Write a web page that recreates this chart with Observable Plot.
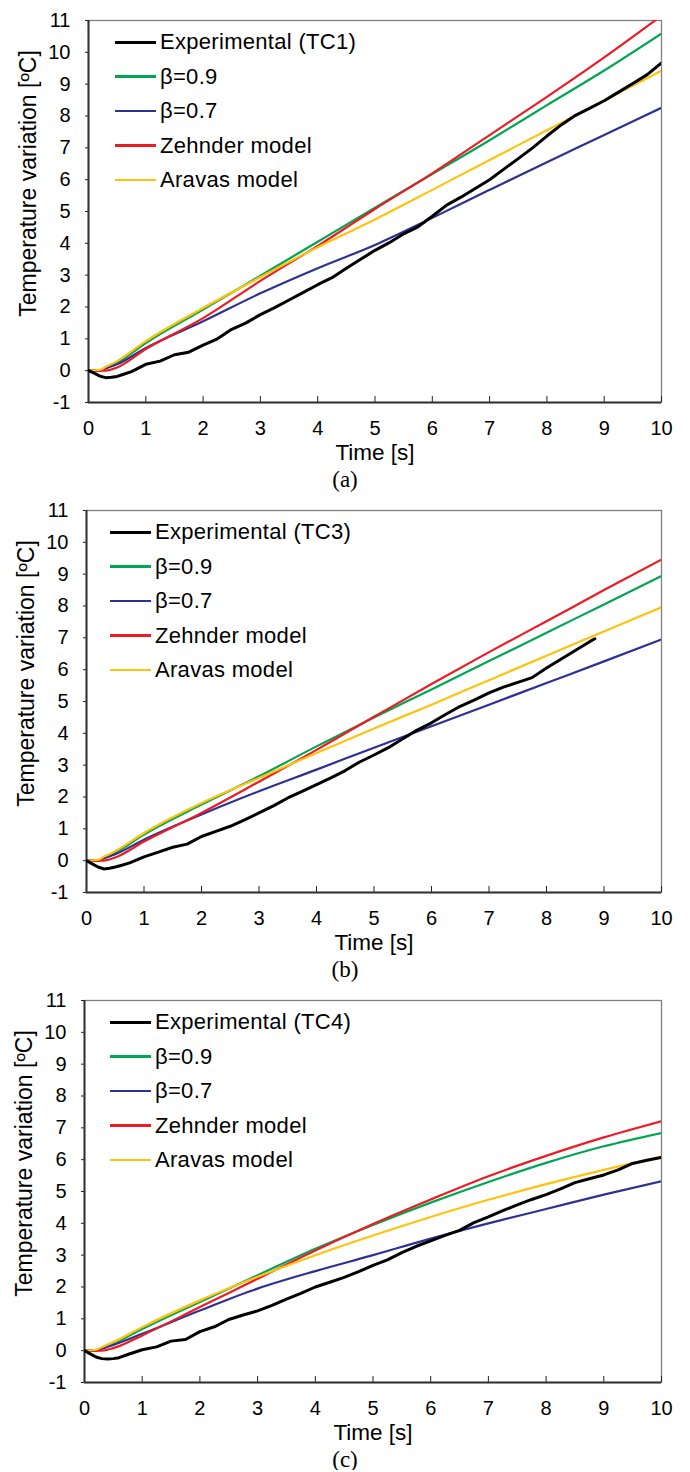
<!DOCTYPE html>
<html><head><meta charset="utf-8">
<script src="https://cdn.jsdelivr.net/npm/d3@7"></script>
<script src="https://cdn.jsdelivr.net/npm/@observablehq/plot@0.6"></script>
<style>
body{margin:0;background:#fff;}
.panel{position:relative;width:690px;height:466px;}
.panel svg{display:block;}
.legend{position:absolute;left:0;top:0;font-family:"Liberation Sans",Arial,sans-serif;font-size:22px;letter-spacing:0.3px;color:#000;}
.row{position:absolute;height:34px;display:flex;align-items:center;white-space:nowrap;}
.swatch{display:inline-block;width:41px;margin-right:4px;}
.caption{height:24px;line-height:24px;text-align:center;font-family:"Liberation Serif","Times New Roman",serif;font-size:23px;color:#000;position:relative;top:2px;z-index:2;}
</style></head><body><div id="root"></div>
<script>
// ---------- data ----------
const seriesNames = ["β=0.9", "β=0.7", "Zehnder model", "Aravas model"];
const seriesColors = ["#00a651", "#2e3192", "#ed1c24", "#ffc20e"];
const expColor = "#000000";
const xTicks = [0,1,2,3,4,5,6,7,8,9,10];
const yTicks = [-1,0,1,2,3,4,5,6,7,8,9,10,11];
const xLabel = "Time [s]";
const yLabel = "Temperature variation [ºC]";
const captions = ["(a)", "(b)", "(c)"];
const expNames = ["Experimental (TC1)", "Experimental (TC3)", "Experimental (TC4)"];

const modelTimes = [0, 0.2, 0.3, 0.5, 1, 2, 3, 4, 5, 6, 7, 8, 9, 10];

// panel (a)
const greenA  = [0, 0, 0.08, 0.25, 0.87, 1.92, 2.98, 4.05, 5.12, 6.18, 7.24, 8.34, 9.43, 10.59];
const blueA   = [0, 0, 0.07, 0.2, 0.71, 1.55, 2.43, 3.22, 3.95, 4.8, 5.68, 6.55, 7.4, 8.26];
const redA    = [0, 0, 0, 0.1, 0.68, 1.65, 2.82, 3.92, 5.08, 6.2, 7.4, 8.6, 9.84, 11.15];
const yellowA = [0, 0.03, 0.12, 0.3, 0.93, 1.97, 2.94, 3.88, 4.75, 5.68, 6.62, 7.55, 8.49, 9.42];
// panel (b)
const greenB  = [0, 0, 0.08, 0.25, 0.82, 1.76, 2.65, 3.59, 4.5, 5.38, 6.27, 7.16, 8.05, 8.94];
const blueB   = [0, 0, 0.07, 0.2, 0.66, 1.45, 2.18, 2.86, 3.55, 4.22, 4.9, 5.58, 6.26, 6.95];
const redB    = [0, 0, 0, 0.1, 0.6, 1.5, 2.48, 3.48, 4.52, 5.55, 6.55, 7.52, 8.5, 9.46];
const yellowB = [0, 0.03, 0.12, 0.3, 0.87, 1.81, 2.6, 3.38, 4.15, 4.9, 5.67, 6.44, 7.2, 7.96];
// panel (c)
const greenC  = [0, 0, 0.07, 0.22, 0.68, 1.53, 2.37, 3.2, 3.95, 4.65, 5.3, 5.9, 6.42, 6.84];
const blueC   = [0, 0, 0.06, 0.18, 0.53, 1.26, 1.95, 2.5, 3.0, 3.52, 4.0, 4.45, 4.9, 5.32];
const redC    = [0, 0, 0, 0.08, 0.48, 1.37, 2.26, 3.15, 3.98, 4.75, 5.48, 6.12, 6.7, 7.21];
const yellowC = [0, 0.03, 0.11, 0.27, 0.74, 1.58, 2.32, 3.0, 3.62, 4.2, 4.74, 5.23, 5.68, 6.1];

// experimental
const expTimes = [0, 0.1, 0.2, 0.3, 0.4, 0.5, 0.6, 0.75, 1, 1.25, 1.5, 1.75, 2, 2.25, 2.5, 2.75, 3, 3.25, 3.5, 3.75, 4, 4.25, 4.5, 4.75, 5, 5.25, 5.5, 5.75, 6, 6.25, 6.5, 6.75, 7, 7.25, 7.5, 7.75, 8, 8.25, 8.5, 8.75, 9, 9.25, 9.5, 9.75, 10];
const expA = [0, -0.08, -0.17, -0.22, -0.21, -0.18, -0.12, -0.03, 0.2, 0.3, 0.5, 0.58, 0.8, 1.0, 1.3, 1.5, 1.76, 1.98, 2.22, 2.46, 2.7, 2.92, 3.22, 3.5, 3.78, 4.02, 4.3, 4.52, 4.85, 5.2, 5.45, 5.72, 6.0, 6.33, 6.66, 7.0, 7.37, 7.72, 8.02, 8.25, 8.48, 8.75, 9.02, 9.3, 9.67];
const expTimesB = [0, 0.1, 0.2, 0.3, 0.4, 0.5, 0.6, 0.75, 1, 1.25, 1.5, 1.75, 2, 2.25, 2.5, 2.75, 3, 3.25, 3.5, 3.75, 4, 4.25, 4.5, 4.75, 5, 5.25, 5.5, 5.75, 6, 6.25, 6.5, 6.75, 7, 7.25, 7.5, 7.75, 8, 8.25, 8.5, 8.75, 8.84];
const expB = [0, -0.1, -0.2, -0.26, -0.24, -0.2, -0.15, -0.07, 0.12, 0.27, 0.42, 0.52, 0.76, 0.92, 1.08, 1.28, 1.5, 1.72, 1.97, 2.18, 2.39, 2.6, 2.83, 3.1, 3.32, 3.55, 3.83, 4.1, 4.33, 4.6, 4.85, 5.05, 5.27, 5.45, 5.6, 5.75, 6.05, 6.33, 6.6, 6.88, 6.97];
const expC = [0, -0.1, -0.2, -0.25, -0.26, -0.25, -0.22, -0.12, 0.03, 0.12, 0.3, 0.35, 0.6, 0.75, 0.98, 1.12, 1.25, 1.42, 1.62, 1.8, 2.0, 2.15, 2.3, 2.48, 2.68, 2.85, 3.08, 3.28, 3.45, 3.62, 3.78, 4.02, 4.2, 4.4, 4.58, 4.75, 4.9, 5.08, 5.28, 5.4, 5.52, 5.68, 5.88, 5.98, 6.07];

// ---------- build ----------
const panels = [
  {models: [greenA, blueA, redA, yellowA], expT: expTimes, expV: expA, left: 88, legendLeft: 115},
  {models: [greenB, blueB, redB, yellowB], expT: expTimesB, expV: expB, left: 86, legendLeft: 110},
  {models: [greenC, blueC, redC, yellowC], expT: expTimes, expV: expC, left: 84, legendLeft: 110}
];
const font = '"Liberation Sans", Arial, sans-serif';
const root = document.getElementById("root");

panels.forEach((cfg, p) => {
  const modelRows = [];
  seriesNames.forEach((name, k) => cfg.models[k].forEach((v, i) => modelRows.push({t: modelTimes[i], v, series: name})));
  const expRows = cfg.expT.map((t, i) => ({t, v: cfg.expV[i]}));
  const xDom = [xTicks[0], xTicks[xTicks.length - 1]];
  const yDom = [yTicks[0], yTicks[yTicks.length - 1]];

  const chart = Plot.plot({
    width: 690, height: 466,
    marginLeft: cfg.left, marginRight: 29, marginTop: 20, marginBottom: 64,
    style: {fontFamily: font, fontSize: "20px", color: "#222", background: "transparent", overflow: "visible"},
    x: {domain: xDom},
    y: {domain: yDom},
    color: {domain: seriesNames, range: seriesColors},
    marks: [
      Plot.frame({stroke: "#808080", strokeWidth: 1.3}),
      Plot.axisY({ticks: yTicks, tickSize: 3, tickPadding: 15, tickFormat: d => String(d), fontSize: 20, label: null, fill: "#000"}),
      Plot.axisX({ticks: xTicks, tickSize: -6, tickPadding: 24, tickFormat: d => String(d), fontSize: 20, label: null, fill: "#000"}),
      Plot.ruleX([xDom[0]], {stroke: "#333", strokeWidth: 2}),
      Plot.ruleY([yDom[0]], {stroke: "#333", strokeWidth: 2}),
      Plot.line(modelRows, {x: "t", y: "v", z: "series", stroke: "series", strokeWidth: 2.2, clip: true, curve: "monotone-x"}),
      Plot.line(expRows, {x: "t", y: "v", stroke: expColor, strokeWidth: 3, clip: true}),
      Plot.text([yLabel], {text: d => d, frameAnchor: "left", textAnchor: "middle", lineAnchor: "middle", rotate: -90, dx: -60, dy: -28, fontSize: 23, fill: "#000"}),
      Plot.text([xLabel], {text: d => d, frameAnchor: "bottom", textAnchor: "middle", lineAnchor: "middle", dy: 50, fontSize: 22.5, fill: "#000"})
    ]
  });

  const wrap = document.createElement("div");
  wrap.className = "panel";
  wrap.appendChild(chart);

  const legend = document.createElement("div");
  legend.className = "legend";
  const entries = [{name: expNames[p], color: expColor, w: 3}].concat(seriesNames.map((n, k) => ({name: n, color: seriesColors[k], w: 2.2})));
  entries.forEach((e, i) => {
    const row = document.createElement("div");
    row.className = "row";
    row.style.left = cfg.legendLeft + "px";
    row.style.top = (42 + i * 34.5 - 17) + "px";
    const sw = document.createElement("span");
    sw.className = "swatch";
    sw.style.height = e.w + "px";
    sw.style.background = e.color;
    const tx = document.createElement("span");
    tx.textContent = e.name;
    row.appendChild(sw); row.appendChild(tx);
    legend.appendChild(row);
  });
  wrap.appendChild(legend);
  root.appendChild(wrap);

  const cap = document.createElement("div");
  cap.className = "caption";
  cap.textContent = captions[p];
  root.appendChild(cap);
});
</script></body></html>
